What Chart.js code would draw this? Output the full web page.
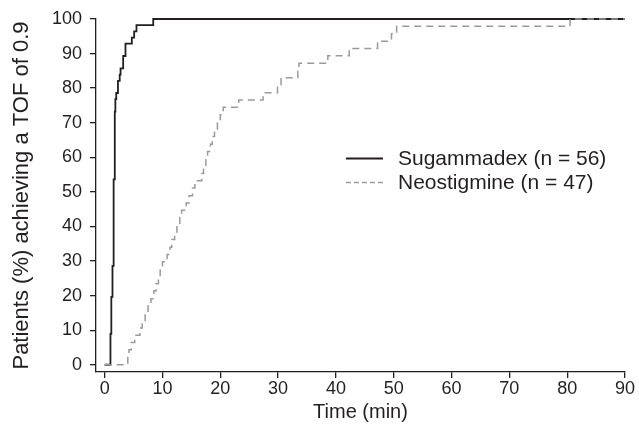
<!DOCTYPE html>
<html>
<head>
<meta charset="utf-8">
<title>Time to TOF 0.9</title>
<script src="https://cdn.jsdelivr.net/npm/chart.js@4.4.1/dist/chart.umd.min.js"></script>
<style>
  html, body { margin: 0; padding: 0; background: #fff; }
  #wrap { width: 639px; height: 440px; }
</style>
</head>
<body>
<div id="wrap"><canvas id="tofChart" width="639" height="440"></canvas></div>
<script>
// cumulative % of patients reaching TOF 0.9
const sugTime = [0, 1.0, 1.15, 1.35, 1.55, 1.75, 1.85, 2.0, 2.3, 2.6, 2.75, 3.2, 3.6, 4.7, 5.1, 5.5, 8.4, 90];
const sugPct  = [0, 8.9, 19.6, 28.6, 53.6, 73.2, 76.8, 78.6, 82.1, 83.9, 85.7, 89.3, 92.9, 94.6, 96.4, 98.2, 100, 100];

const neoTime = [0, 4.0, 4.2, 4.6, 5.2, 6.1, 6.5, 7.0, 7.5, 8.0, 8.5, 8.9, 9.3, 9.6, 10.0,
  10.8, 11.3, 11.6, 12.1, 12.5, 13.0, 13.3, 14.1, 14.6, 15.2, 15.6, 16.8, 17.1, 17.5, 17.8,
  18.3, 18.6, 19.0, 19.5, 20.0, 20.5, 23.2, 27.4, 29.9, 30.5, 33.4, 33.6, 38.6, 42.3, 47.2,
  49.6, 50.5, 80.5, 90];
const neoPct = [0, 2.1, 4.3, 6.4, 8.5, 10.6, 12.8, 14.9, 17.0, 19.1, 21.3, 23.4, 25.5, 27.7, 29.8,
  31.9, 34.0, 36.2, 38.3, 40.4, 42.6, 44.7, 46.8, 48.9, 51.1, 53.2, 55.3, 57.4, 59.6, 61.7,
  63.8, 66.0, 68.1, 70.2, 72.3, 74.5, 76.6, 78.7, 80.9, 83.0, 85.1, 87.2, 89.4, 91.5, 93.6,
  95.7, 97.9, 100, 100];

const xTicks = [0, 10, 20, 30, 40, 50, 60, 70, 80, 90];
const yTicks = [0, 10, 20, 30, 40, 50, 60, 70, 80, 90, 100];

const seriesLabels = ["Sugammadex (n = 56)", "Neostigmine (n = 47)"];

const FONT = "'Liberation Sans', Arial, Helvetica, sans-serif";
const INK = "#231f20";
const GREY = "#9a9a9a";

const toPoints = (xs, ys) => xs.map((x, i) => ({ x: x, y: ys[i] }));

// simple legend inside the plot area
const legendPlugin = {
  id: "innerLegend",
  afterDraw(chart) {
    const ctx = chart.ctx;
    const rows = [
      { y: 158.5, color: INK, width: 1.8, dash: [] },
      { y: 182.5, color: GREY, width: 1.5, dash: [5, 3] },
    ];
    ctx.save();
    ctx.font = "21px " + FONT;
    ctx.textBaseline = "middle";
    rows.forEach((r, i) => {
      ctx.beginPath();
      ctx.setLineDash(r.dash);
      ctx.strokeStyle = r.color;
      ctx.lineWidth = r.width;
      ctx.moveTo(346, r.y);
      ctx.lineTo(383, r.y);
      ctx.stroke();
      ctx.fillStyle = INK;
      ctx.fillText(seriesLabels[i], 398, r.y + 1);
    });
    ctx.restore();
  },
};

const ctx = document.getElementById("tofChart").getContext("2d");
new Chart(ctx, {
  type: "line",
  data: {
    datasets: [
      {
        label: seriesLabels[0],
        data: toPoints(sugTime, sugPct),
        borderColor: INK,
        borderWidth: 1.8,
        stepped: "before",
        pointRadius: 0,
        fill: false,
        clip: false,
        order: 1,
      },
      {
        label: seriesLabels[1],
        data: toPoints(neoTime, neoPct),
        borderColor: GREY,
        borderWidth: 1.5,
        borderDash: [7, 5],
        stepped: "before",
        pointRadius: 0,
        fill: false,
        clip: false,
        order: 0,
      },
    ],
  },
  options: {
    responsive: false,
    animation: false,
    devicePixelRatio: 1,
    layout: { padding: { left: 0, right: 14, top: 19, bottom: 0 } },
    plugins: {
      legend: { display: false },
      tooltip: { enabled: false },
    },
    scales: {
      x: {
        type: "linear",
        min: -1.5,
        max: 90,
        afterBuildTicks: (axis) => { axis.ticks = xTicks.map((v) => ({ value: v })); },
        afterFit: (axis) => { axis.height = 68; },
        grid: { drawOnChartArea: false, drawTicks: true, tickLength: 6, color: INK, lineWidth: 1.3 },
        border: { display: true, color: INK, width: 1.3 },
        ticks: { color: INK, font: { family: FONT, size: 18 }, padding: 0, maxRotation: 0 },
        title: { display: true, text: "Time (min)", color: INK, font: { family: FONT, size: 20 }, padding: { top: 4, bottom: 16 } },
      },
      y: {
        type: "linear",
        min: -2.1,
        max: 100,
        afterBuildTicks: (axis) => { axis.ticks = yTicks.map((v) => ({ value: v })); },
        afterFit: (axis) => { axis.width = 96; },
        grid: { drawOnChartArea: false, drawTicks: true, tickLength: 6, color: INK, lineWidth: 1.3 },
        border: { display: true, color: INK, width: 1.3 },
        ticks: { color: INK, font: { family: FONT, size: 18 }, padding: 8 },
        title: { display: true, text: "Patients (%) achieving a TOF of 0.9", color: INK, font: { family: FONT, size: 22 }, padding: { top: 9, bottom: 4 } },
      },
    },
  },
  plugins: [legendPlugin],
});
</script>
</body>
</html>
